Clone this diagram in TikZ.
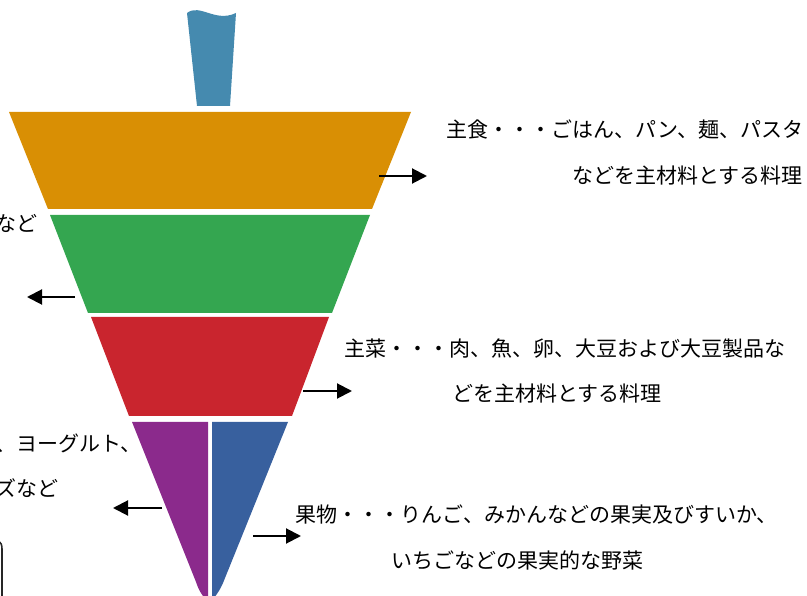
\documentclass[tikz,border=0pt]{standalone}
\usepackage{fontspec}
\newfontfamily\jp{Noto Sans CJK JP}
\usetikzlibrary{arrows.meta}
\definecolor{stemblue}{RGB}{69,138,175}
\definecolor{grainorange}{RGB}{217,143,4}
\definecolor{vegegreen}{RGB}{52,166,80}
\definecolor{mainred}{RGB}{201,37,46}
\definecolor{milkpurple}{RGB}{139,42,140}
\definecolor{fruitblue}{RGB}{56,96,158}
\begin{document}
\begin{tikzpicture}[x=1pt,y=-1pt,
  lab/.style={font=\jp\fontsize{21}{25}\selectfont, inner sep=0pt, text height=18.5pt, text depth=2.5pt},
  arr/.style={line width=2pt, -{Triangle[length=15pt,width=15pt]}}]
\useasboundingbox (0,0) rectangle (807,596);
\clip (0,0) rectangle (807,596);
% stem
\fill[stemblue] (187,13) .. controls (200,3) and (215,23) .. (236,13) -- (230,106) -- (197,106) -- cycle;
% layers
\fill[grainorange] (9,112) -- (411,112) -- (372,209) -- (48,209) -- cycle;
\fill[vegegreen] (50,215) -- (370,215) -- (332,313) -- (88,313) -- cycle;
\fill[mainred] (91,317) -- (329,317) -- (292,416) -- (129,416) -- cycle;
\fill[milkpurple] (132,422) -- (208,422) -- (208,600) -- (205,600) -- (203,596) .. controls (200,592) and (198,588) .. (196,582) -- cycle;
\fill[fruitblue] (212,422) -- (288,422) -- (223,583) .. controls (220,590) and (217,594) .. (214,598) -- (212,600) -- cycle;
% partial outline at bottom left
\draw[line width=1.6pt, black!85] (-12,539) .. controls (-2,539) and (2,541) .. (2,549) -- (2,600);
% arrow end points
\coordinate (o1) at (379,176); \coordinate (o2) at (427,176);
\coordinate (g1) at (75,297);  \coordinate (g2) at (27,297);
\coordinate (r1) at (303,391); \coordinate (r2) at (352,391);
\coordinate (p1) at (162,508); \coordinate (p2) at (113,508);
\coordinate (b1) at (253,536); \coordinate (b2) at (301,536);
\draw[arr] (o1) -- (o2);
\draw[arr] (g1) -- (g2);
\draw[arr] (r1) -- (r2);
\draw[arr] (p1) -- (p2);
\draw[arr] (b1) -- (b2);
% labels
\node[lab, anchor=west] (t1) at (446,130) {主食・・・ごはん、パン、麺、パスタ};
\node[lab, anchor=west] (t2) at (572,176) {などを主材料とする料理};
\node[lab, anchor=west] (t3) at (344,349) {主菜・・・肉、魚、卵、大豆および大豆製品な};
\node[lab, anchor=west] (t4) at (452,394) {どを主材料とする料理};
\node[lab, anchor=west] (t5) at (295,514) {果物・・・りんご、みかんなどの果実及びすいか、};
\node[lab, anchor=west] (t6) at (391,560) {いちごなどの果実的な野菜};
\node[lab, anchor=west] (t7) at (-5,224) {など};
\node[lab, anchor=west] (t8) at (-5,444) {、ヨーグルト、};
\node[lab, anchor=west] (t9) at (-5,488) {ズなど};
\end{tikzpicture}
\end{document}
